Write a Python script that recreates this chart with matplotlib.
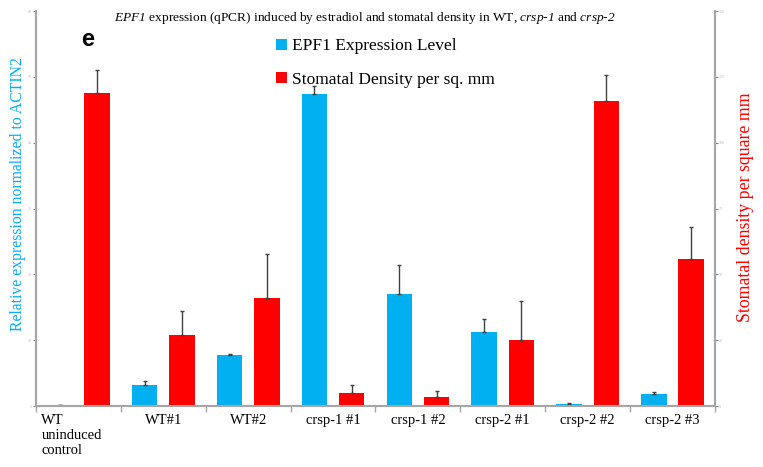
import numpy as np
import matplotlib
matplotlib.use("Agg")
import matplotlib.pyplot as plt
from matplotlib.patches import Patch
from matplotlib.transforms import ScaledTranslation

plt.rcParams['font.family'] = ['Liberation Serif', 'DejaVu Serif']
# math text is only used for the italic gene / line names in the title
plt.rcParams['mathtext.fontset'] = 'custom'
plt.rcParams['mathtext.it'] = 'Liberation Serif:italic'
plt.rcParams['mathtext.rm'] = 'Liberation Serif:italic'

# samples
lines = ["WT\nuninduced\ncontrol", "WT#1", "WT#2", "crsp-1 #1", "crsp-1 #2",
         "crsp-2 #1", "crsp-2 #2", "crsp-2 #3"]

# EPF1 qPCR, relative to ACTIN2 (left axis)
epf1 = [0.1, 3.2, 7.75, 47.4, 17.0, 11.2, 0.3, 1.8]
epf1_err = [0.05, 0.6, 0.2, 1.2, 4.4, 2.0, 0.1, 0.3]

# stomatal density per sq. mm (right axis)
density = [118.9, 27.0, 41.0, 4.9, 3.4, 25.1, 115.8, 55.8]
density_err = [8.7, 9.1, 16.7, 3.0, 2.3, 14.8, 9.9, 12.2]

blue = '#00B0F0'
red = '#FF0000'
axis_grey = '#A6A6A6'

fig = plt.figure(figsize=(7.63, 4.67), dpi=100)
ax = fig.add_axes([0.0472, 0.1306, 0.8898, 0.8458])
ax2 = ax.twinx()

x = np.arange(len(lines))
w = 0.30
zeros = np.zeros(len(x))

ax.bar(x - 0.22, epf1, w, color=blue, zorder=2)
ax.errorbar(x - 0.22, epf1, yerr=[zeros, epf1_err], fmt='none',
            ecolor='#404040', elinewidth=1, capsize=1.5, capthick=1, zorder=3)
ax2.bar(x + 0.22, density, w, color=red, zorder=2)
ax2.errorbar(x + 0.22, density, yerr=[zeros, density_err], fmt='none',
             ecolor='#404040', elinewidth=1, capsize=1.5, capthick=1, zorder=3)

ax.set_xlim(-0.5, len(lines) - 0.5)
ax.set_ylim(0, 60)
ax2.set_ylim(0, 150)
ax.set_yticks(np.arange(0, 61, 10))
ax2.set_yticks(np.arange(0, 151, 25))

for a in (ax, ax2):
    for s in a.spines.values():
        s.set_color(axis_grey)
        s.set_linewidth(1.5)
    a.spines['top'].set_visible(False)
    a.tick_params(axis='y', length=2, width=0.8, color='#888888',
                  labelsize=3, labelcolor='#BBBBBB', pad=1)

# category labels under the groups, tick marks between groups
ax.set_xticks(x)
ax.set_xticklabels(lines, fontsize=10.5)
ax.tick_params(axis='x', which='major', length=0, pad=6)
ax.set_xticks(np.arange(-0.5, len(lines)), minor=True)
ax.tick_params(axis='x', which='minor', length=4, width=1, color=axis_grey)
first = ax.get_xticklabels()[0]
first.set_horizontalalignment('left')
first.set_multialignment('left')
first.set_linespacing(1.2)
first.set_transform(first.get_transform() +
                    ScaledTranslation(-0.37, 0, fig.dpi_scale_trans))

fig.text(0.024, 0.585, "Relative expression normalized to ACTIN2", rotation=90,
         color=blue, fontsize=11.3, ha='center', va='center')
fig.text(0.977, 0.557, "Stomatal density per square mm", rotation=90,
         color=red, fontsize=12.8, ha='center', va='center')

fig.text(0.478, 0.962,
         r"$\mathrm{EPF1}$ expression (qPCR) induced by estradiol and stomatal density in WT, "
         r"$\mathrm{crsp}$-$\mathrm{1}$ and $\mathrm{crsp}$-$\mathrm{2}$",
         fontsize=9.6, ha='center', va='center')
fig.text(0.115, 0.915, "e", fontsize=17, fontweight='bold',
         family='Liberation Sans', ha='center', va='center')

handles = [Patch(facecolor=blue, edgecolor='none', label="EPF1 Expression Level"),
           Patch(facecolor=red, edgecolor='none', label="Stomatal Density per sq. mm")]
fig.legend(handles=handles, loc='upper left', bbox_to_anchor=(0.362, 0.918),
           frameon=False, fontsize=12.5, handlelength=0.6, handleheight=0.6,
           handletextpad=0.3, labelspacing=1.0, borderpad=0, borderaxespad=0)

fig.savefig("out.png", dpi=100)
